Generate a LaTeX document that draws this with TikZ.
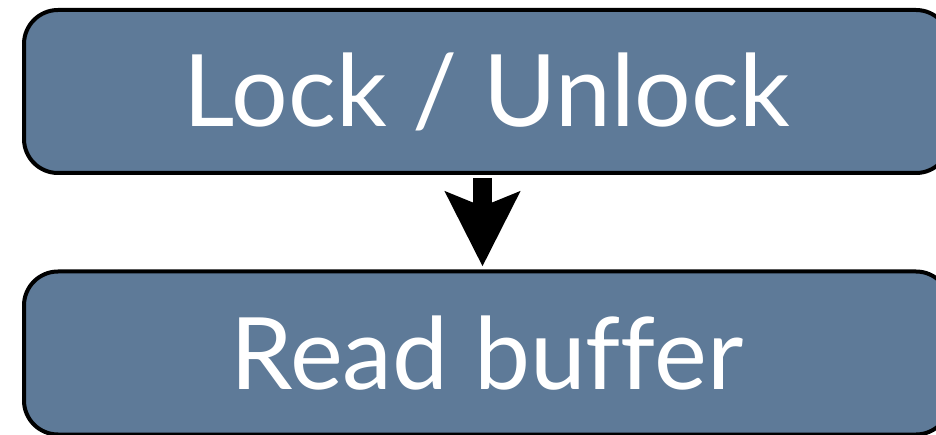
\documentclass[tikz,border=0pt]{standalone}
\usepackage{fontspec}
\setmainfont[Ligatures={NoCommon}]{Lato}
\usetikzlibrary{arrows.meta}
\definecolor{boxblue}{RGB}{94,122,152}
\tikzset{
  stagebox/.style={draw=black, line width=4pt, fill=boxblue, rounded corners=34pt,
    minimum width=926pt, minimum height=163pt, inner sep=0pt,
    text=white, font=\fontsize{100}{120}\selectfont},
  flowarrow/.style={line width=19pt, black,
    -{Stealth[length=74pt, width=73pt, inset=14pt]},
    shorten <=3pt, shorten >=3pt}
}
\begin{document}
\begin{tikzpicture}[x=1pt,y=-1pt]
  \useasboundingbox (0,0) rectangle (936,435);
  \clip (0,0) rectangle (936,435);
  \fill[white] (0,0) rectangle (936,435);
  \node[stagebox] (lock) at (487,91.5) {Lock / Unlock};
  \node[stagebox] (read) at (487,353) {Read buffer};
  \draw[flowarrow] ([xshift=-4.5pt]lock.south) -- ([xshift=-4.5pt]read.north);
\end{tikzpicture}
\end{document}
